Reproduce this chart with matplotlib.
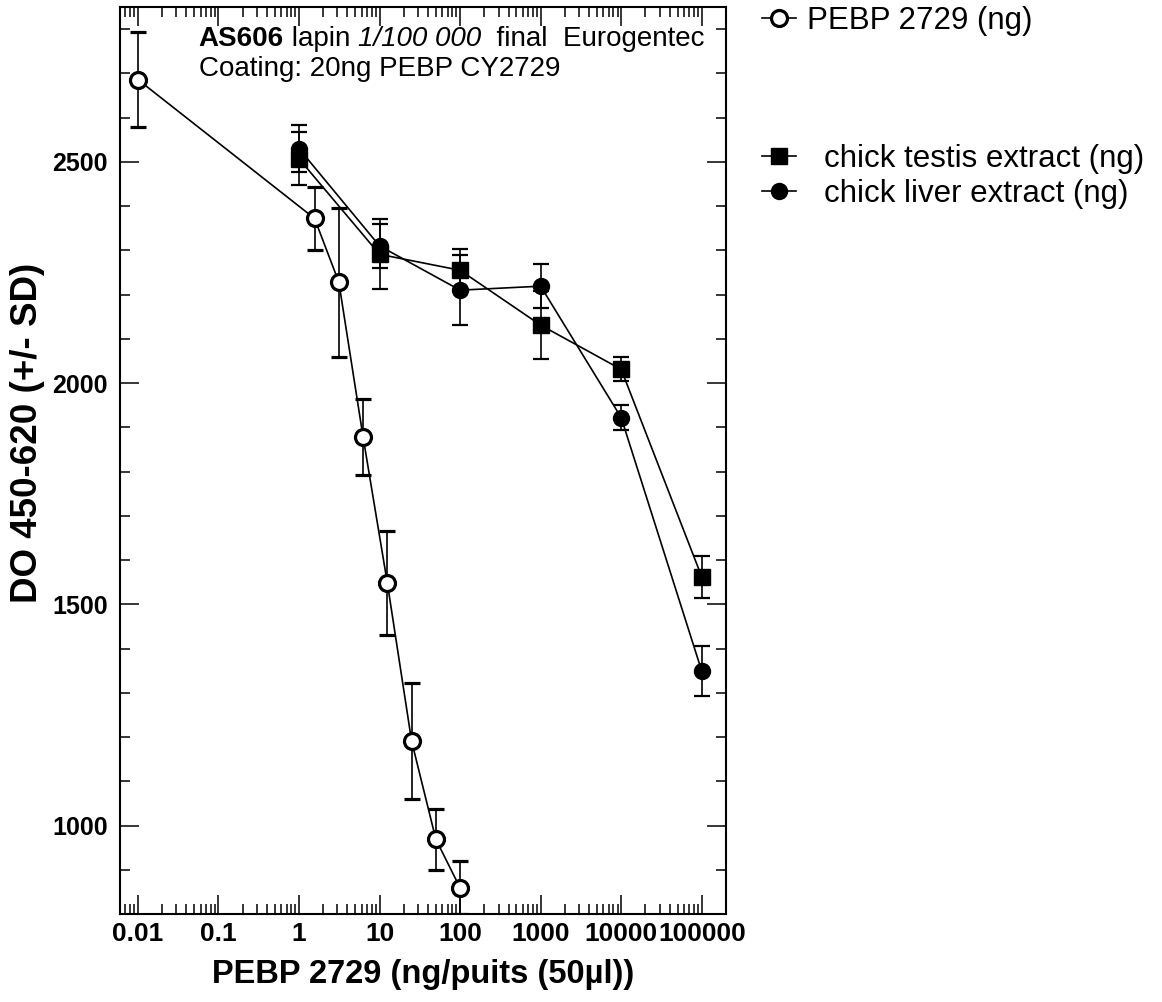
import numpy as np
import matplotlib
matplotlib.use("Agg")
import matplotlib.pyplot as plt
from matplotlib.ticker import LogLocator, NullFormatter, MultipleLocator, FixedLocator
from matplotlib.lines import Line2D

plt.rcParams['font.family'] = ['Liberation Sans', 'DejaVu Sans']

# PEBP 2729 dilution series (ng)
pebp_x = [0.01, 1.5625, 3.125, 6.25, 12.5, 25, 50, 100]
pebp_y = [2686, 2372, 2228, 1878, 1548, 1191, 969, 859]
pebp_sd = [108, 71, 168, 85, 118, 131, 69, 60]

# chick extracts (ng)
extract_x = [1, 10, 100, 1000, 10000, 100000]
testis_y = [2507, 2291, 2255, 2131, 2031, 1562]
testis_sd = [60, 79, 47, 77, 27, 47]
liver_y = [2530, 2310, 2210, 2219, 1922, 1349]
liver_sd = [53, 49, 79, 49, 28, 57]

xticks = [0.01, 0.1, 1, 10, 100, 1000, 10000, 100000]
xticklabels = ["0.01", "0.1", "1", "10", "100", "1000", "10000", "100000"]
yticks = [1000, 1500, 2000, 2500]

fig = plt.figure(figsize=(11.62, 10.02), dpi=100)
ax = fig.add_axes([120/1162, 1 - 914/1002, 606/1162, 907/1002])

ebkw = dict(color='black', lw=1.2, elinewidth=1.2, capsize=5.5, capthick=1.6)
ax.errorbar(pebp_x, pebp_y, yerr=pebp_sd, marker='o', ms=11.5, mfc='white',
            mec='black', mew=2.3, zorder=3, **ebkw)
ax.errorbar(extract_x, testis_y, yerr=testis_sd, marker='s', ms=11, mfc='black',
            mec='black', zorder=3, **ebkw)
ax.errorbar(extract_x, liver_y, yerr=liver_sd, marker='o', ms=11.5, mfc='black',
            mec='black', zorder=3, **ebkw)

ax.set_xscale('log')
ax.set_xlim(0.006, 200000)
ax.set_ylim(800, 2850)

ax.xaxis.set_major_locator(FixedLocator(xticks))
ax.set_xticklabels(xticklabels)
ax.xaxis.set_minor_locator(LogLocator(base=10, subs=np.arange(2, 10), numticks=30))
ax.xaxis.set_minor_formatter(NullFormatter())
ax.set_yticks(yticks)
ax.yaxis.set_minor_locator(MultipleLocator(100))

ax.tick_params(which='both', direction='in', top=True, right=True, width=1.1)
ax.tick_params(which='major', length=14)
ax.tick_params(which='minor', length=7)
ax.tick_params(axis='x', which='major', labelsize=19, pad=6)
ax.tick_params(axis='y', which='major', labelsize=18, pad=9)
for lab in ax.get_xticklabels() + ax.get_yticklabels():
    lab.set_fontweight('bold')
for sp in ax.spines.values():
    sp.set_linewidth(1.5)

ax.set_xlabel("PEBP 2729 (ng/puits (50µl))", fontsize=23.5, fontweight='bold', labelpad=9)
ax.set_ylabel("DO 450-620 (+/- SD)", fontsize=26.5, fontweight='bold')
ax.yaxis.set_label_coords(-0.124, 0.53)

# annotation, mixed styles on the first line
t1 = ax.text(0.13, 0.957, "AS606", transform=ax.transAxes, fontsize=20,
             fontweight='bold', va='baseline', ha='left')
t2 = ax.annotate(" lapin ", xy=(1, 0), xycoords=t1, va='bottom', ha='left', fontsize=20)
t3 = ax.annotate("1/100 000", xy=(1, 0), xycoords=t2, va='bottom', ha='left',
                 fontsize=20, fontstyle='italic')
ax.annotate("  final  Eurogentec", xy=(1, 0), xycoords=t3, va='bottom', ha='left', fontsize=20)
ax.text(0.13, 0.924, "Coating: 20ng PEBP CY2729", transform=ax.transAxes,
        fontsize=20, va='baseline', ha='left')

h_pebp = Line2D([], [], color='black', lw=1.2, marker='o', ms=11.5, mfc='white', mec='black', mew=2.3)
h_testis = Line2D([], [], color='black', lw=1.2, marker='s', ms=11, mfc='black', mec='black')
h_liver = Line2D([], [], color='black', lw=1.2, marker='o', ms=11.5, mfc='black', mec='black')

legkw = dict(frameon=False, fontsize=22.5, handlelength=1.1,
             borderaxespad=0, borderpad=0, loc='upper left', labelspacing=0.15)
fig.legend([h_pebp], ["PEBP 2729 (ng)"], bbox_to_anchor=(762/1162, 1 - 6/1002),
           handletextpad=0.35, **legkw)
fig.legend([h_testis, h_liver], ["chick testis extract (ng)", "chick liver extract (ng)"],
           bbox_to_anchor=(762/1162, 1 - 144/1002), handletextpad=0.9, **legkw)

fig.savefig("out.png", dpi=100)
